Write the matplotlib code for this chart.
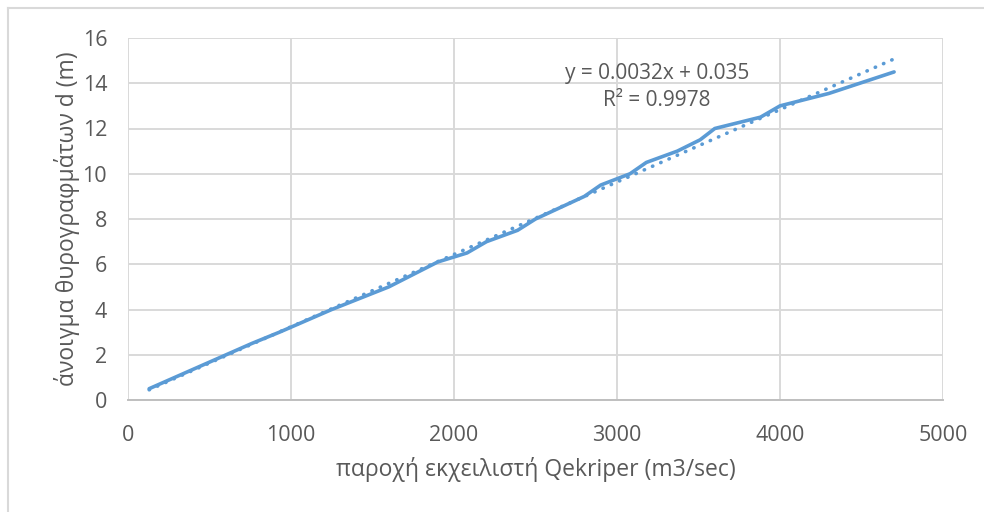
import matplotlib
import matplotlib.pyplot as plt
from matplotlib.lines import Line2D

matplotlib.use("Agg")

# discharge over the spillway (m3/sec) and matching gate opening (m)
q_flow = [130, 760, 930, 1250, 1600, 1900, 2080, 2200, 2390, 2500, 2800,
          2900, 3080, 3180, 3370, 3510, 3600, 3880, 4000, 4300, 4700]
d_open = [0.5, 2.5, 3.0, 4.0, 5.0, 6.1, 6.5, 7.0, 7.5, 8.0, 9.0,
          9.5, 10.0, 10.5, 11.0, 11.5, 12.0, 12.5, 13.0, 13.55, 14.5]

# linear trendline
slope = 0.0032
intercept = 0.035
r_squared = 0.9978

x_ticks = [0, 1000, 2000, 3000, 4000, 5000]
y_ticks = [0, 2, 4, 6, 8, 10, 12, 14, 16]

plt.rcParams["font.family"] = ["Open Sans", "DejaVu Sans"]
blue = "#5B9BD5"
text_gray = "#595959"
grid_gray = "#D9D9D9"

fig = plt.figure(figsize=(9.84, 5.12), dpi=100)
ax = fig.add_axes([128 / 984, 1 - 400 / 512, (943 - 128) / 984, (400 - 38) / 512])

ax.plot(q_flow, d_open, color=blue, linewidth=2.6, solid_capstyle="round", zorder=3)

x_fit = [min(q_flow), max(q_flow)]
y_fit = [slope * x + intercept for x in x_fit]
ax.plot(x_fit, y_fit, color=blue, linewidth=2.6, linestyle=(0, (0.1, 2.4)),
        dash_capstyle="round", zorder=3)

ax.text(3245, 14.45, f"y = {slope}x + {intercept}", ha="center", va="center",
        fontsize=15, color=text_gray)
ax.text(3245, 13.25, f"R² = {r_squared}", ha="center", va="center",
        fontsize=15, color=text_gray)

ax.set_xlim(0, 5000)
ax.set_ylim(0, 16)
ax.set_xticks(x_ticks)
ax.set_yticks(y_ticks)
ax.grid(True, color=grid_gray, linewidth=1.4)
ax.set_axisbelow(True)
for side in ["top", "right", "left"]:
    ax.spines[side].set_visible(False)
ax.spines["bottom"].set_color("#BFBFBF")
ax.spines["bottom"].set_linewidth(1.4)
ax.tick_params(length=0, labelsize=15.5, labelcolor=text_gray)
ax.tick_params(axis="x", pad=18)
ax.tick_params(axis="y", pad=15)

ax.set_xlabel("παροχή εκχειλιστή Qekriper (m3/sec)", fontsize=16.5,
              color=text_gray, labelpad=8)
ax.set_ylabel("άνοιγμα θυρογραφμάτων d (m)", fontsize=16.5,
              color=text_gray, labelpad=2)

# chart area border
fig.add_artist(Line2D([8 / 984, 8 / 984], [0, 1 - 8 / 512], color="#D9D9D9",
                      linewidth=1.5, transform=fig.transFigure))
fig.add_artist(Line2D([8 / 984, 1], [1 - 8 / 512, 1 - 8 / 512], color="#D9D9D9",
                      linewidth=1.5, transform=fig.transFigure))

fig.savefig("out.png", dpi=100)
